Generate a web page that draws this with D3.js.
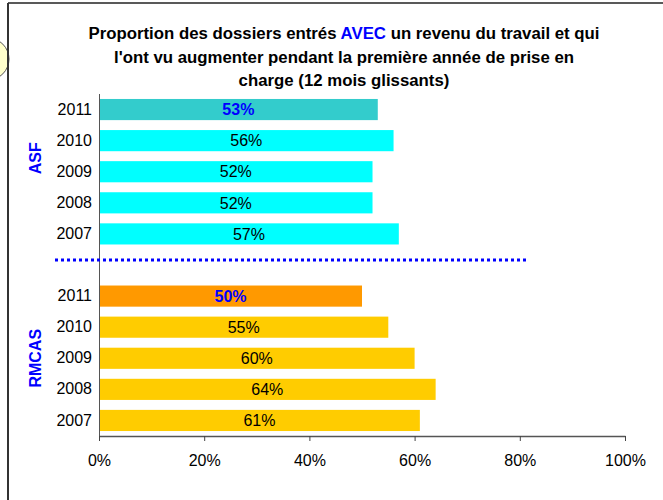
<!DOCTYPE html>
<html>
<head>
<meta charset="utf-8">
<script src="https://cdn.jsdelivr.net/npm/d3@7"></script>
<style>
  body { margin: 0; background: #fff; }
  text { font-family: "Liberation Sans", Arial, sans-serif; }
</style>
</head>
<body>
<svg width="663" height="500"></svg>
<script>
// Data
var years = ["2011", "2010", "2009", "2008", "2007"];
var asfValues = [53, 56, 52, 52, 57];
var rmcasValues = [50, 55, 60, 64, 61];
var groups = ["ASF", "RMCAS"];
var xTicks = [0, 20, 40, 60, 80, 100];
var titleLines = [
  ["Proportion des dossiers entrés ", "AVEC", " un revenu du travail et qui"],
  ["l'ont vu augmenter pendant la première année de prise en"],
  ["charge (12 mois glissants)"]
];

var svg = d3.select("svg"),
    width = +svg.attr("width"),
    height = +svg.attr("height");

// rows: ASF years, an empty slot, RMCAS years
var rows = [];
years.forEach(function(y, i) { rows.push({ key: "ASF-" + y, group: "ASF", year: y, value: asfValues[i], latest: i == 0 }); });
rows.push({ key: "gap" });
years.forEach(function(y, i) { rows.push({ key: "RMCAS-" + y, group: "RMCAS", year: y, value: rmcasValues[i], latest: i == 0 }); });
var bars = rows.filter(function(d) { return d.key != "gap"; });

var colors = {
  ASF: { latest: "#33cccc", other: "#00ffff" },
  RMCAS: { latest: "#ff9900", other: "#ffcc00" }
};

// callout bubble cut by the frame
svg.append("ellipse")
    .attr("cx", -12).attr("cy", 59)
    .attr("rx", 21).attr("ry", 21)
    .attr("fill", "#ffffcc")
    .attr("stroke", "#555").attr("stroke-width", 1);

// frame
svg.append("line").attr("x1", 8).attr("x2", width).attr("y1", 3).attr("y2", 3)
    .attr("stroke", "#222").attr("stroke-width", 1.5);
svg.append("line").attr("x1", 8).attr("x2", 8).attr("y1", 3).attr("y2", height)
    .attr("stroke", "#333").attr("stroke-width", 2);

// scales
var x = d3.scaleLinear().domain([0, 100]).range([99, 625]);
var y = d3.scaleBand()
    .domain(rows.map(function(d) { return d.key; }))
    .range([94, 436])
    .paddingInner(0.32)
    .paddingOuter(0.16);

// title
var title = svg.append("text")
    .attr("text-anchor", "middle")
    .style("font-size", "16.8px")
    .style("font-weight", "bold");
titleLines.forEach(function(parts, i) {
  var line = title.append("tspan").attr("x", 344).attr("y", 39 + i * 23.5);
  parts.forEach(function(p) {
    line.append("tspan").text(p).attr("fill", p == "AVEC" ? "#0000ff" : "#000");
  });
});

// bars
svg.append("g")
    .selectAll("rect")
    .data(bars)
    .enter()
    .append("rect")
    .attr("x", x(0))
    .attr("y", function(d) { return y(d.key); })
    .attr("width", function(d) { return x(d.value) - x(0); })
    .attr("height", y.bandwidth())
    .attr("fill", function(d) { return d.latest ? colors[d.group].latest : colors[d.group].other; });

// value labels
svg.append("g")
    .selectAll("text")
    .data(bars)
    .enter()
    .append("text")
    .attr("x", function(d) { return (x(0) + x(d.value)) / 2; })
    .attr("y", function(d) { return y(d.key) + y.bandwidth() / 2; })
    .attr("dy", "0.36em")
    .attr("text-anchor", "middle")
    .style("font-size", "16px")
    .style("font-weight", function(d) { return d.latest ? "bold" : "normal"; })
    .attr("fill", function(d) { return d.latest ? "#0000ff" : "#000"; })
    .text(function(d) { return d.value + "%"; });

// year labels (left axis)
var yAxis = svg.append("g")
    .attr("transform", "translate(" + x(0) + ",0)")
    .call(d3.axisLeft(y).tickSize(0).tickPadding(7)
        .tickFormat(function(k) { return k == "gap" ? "" : k.split("-")[1]; }));
yAxis.select(".domain").attr("stroke", "#555").attr("d", "M0.5,94V436");
yAxis.selectAll("text")
    .style("font-size", "16px")
    .style("font-family", "'Liberation Sans', Arial, sans-serif")
    .attr("fill", "#000");

// x axis
var xAxis = svg.append("g")
    .attr("transform", "translate(0,436)")
    .call(d3.axisBottom(x).tickValues(xTicks).tickSize(5).tickSizeOuter(0).tickPadding(14)
        .tickFormat(function(d) { return d + "%"; }));
xAxis.select(".domain").attr("stroke", "#555").attr("stroke-width", 1.5);
xAxis.selectAll(".tick line").attr("stroke", "#444");
xAxis.selectAll("text")
    .style("font-size", "16px")
    .style("font-family", "'Liberation Sans', Arial, sans-serif")
    .attr("fill", "#000");

// separator between the two groups
var gapY = y("gap") + y.bandwidth() / 2 - 5;
svg.append("line")
    .attr("x1", 55).attr("x2", 528)
    .attr("y1", gapY).attr("y2", gapY)
    .attr("stroke", "#0000ff")
    .attr("stroke-width", 3)
    .style("stroke-dasharray", "3,3");

// group labels
var groupCenter = {
  ASF: (y("ASF-2010") + y("ASF-2009") + y.bandwidth()) / 2 + 2,
  RMCAS: (y("RMCAS-2011") + y("RMCAS-2007") + y.bandwidth()) / 2
};
svg.append("g")
    .selectAll("text")
    .data(groups)
    .enter()
    .append("text")
    .attr("transform", function(d) { return "translate(35," + groupCenter[d] + ") rotate(-90)"; })
    .attr("text-anchor", "middle")
    .attr("dy", "0.36em")
    .style("font-size", "16px")
    .style("font-weight", "bold")
    .attr("fill", "#0000ff")
    .text(function(d) { return d; });
</script>
</body>
</html>
